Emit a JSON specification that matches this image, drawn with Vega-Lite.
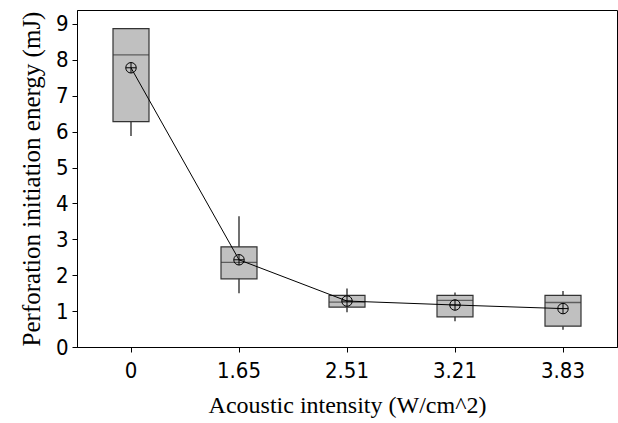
{
  "$schema": "https://vega.github.io/schema/vega-lite/v6.json",
  "width": 540,
  "height": 337,
  "autosize": {"type": "none"},
  "padding": {"left": 77, "top": 10, "right": 1, "bottom": 76},
  "background": "white",
  "config": {
    "view": {"stroke": "black", "strokeWidth": 1},
    "axis": {
      "grid": false,
      "domainColor": "black",
      "tickColor": "black",
      "tickSize": 5,
      "labelColor": "black",
      "labelFont": "DejaVu Sans Condensed",
      "labelFontSize": 22,
      "labelOverlap": false,
      "titleFont": "Liberation Serif",
      "titleFontWeight": "normal",
      "titleColor": "black"
    }
  },
  "data": {
    "values": [
      {"intensity": "0", "lower": 5.88, "q1": 6.28, "median": 8.14, "q3": 8.87, "upper": 8.87, "mean": 7.78},
      {"intensity": "1.65", "lower": 1.5, "q1": 1.9, "median": 2.36, "q3": 2.79, "upper": 3.64, "mean": 2.43},
      {"intensity": "2.51", "lower": 0.97, "q1": 1.11, "median": 1.25, "q3": 1.44, "upper": 1.63, "mean": 1.28},
      {"intensity": "3.21", "lower": 0.72, "q1": 0.84, "median": 1.3, "q3": 1.44, "upper": 1.52, "mean": 1.17},
      {"intensity": "3.83", "lower": 0.48, "q1": 0.58, "median": 1.24, "q3": 1.44, "upper": 1.56, "mean": 1.07}
    ]
  },
  "encoding": {
    "x": {
      "field": "intensity",
      "type": "ordinal",
      "sort": ["0", "1.65", "2.51", "3.21", "3.83"],
      "scale": {"type": "band", "paddingInner": 0, "paddingOuter": 0},
      "axis": {"title": "Acoustic intensity (W/cm^2)", "titleFontSize": 24, "labelAngle": 0, "labelPadding": 8, "titlePadding": 12}
    }
  },
  "layer": [
    {
      "mark": {"type": "rule", "color": "#111111", "strokeWidth": 1.2},
      "encoding": {
        "y": {
          "field": "lower",
          "type": "quantitative",
          "scale": {"domain": [0, 9.39], "nice": false, "zero": true},
          "axis": {"title": "Perforation initiation energy  (mJ)", "titleFontSize": 25, "values": [0, 1, 2, 3, 4, 5, 6, 7, 8, 9], "labelPadding": 4, "titlePadding": 11}
        },
        "y2": {"field": "upper"}
      }
    },
    {
      "mark": {"type": "bar", "size": 36, "fill": "#c0c0c0", "stroke": "#333333", "strokeWidth": 1.2},
      "encoding": {
        "y": {"field": "q1", "type": "quantitative", "axis": {"title": "Perforation initiation energy  (mJ)", "titleFontSize": 25, "values": [0, 1, 2, 3, 4, 5, 6, 7, 8, 9], "labelPadding": 4, "titlePadding": 11}},
        "y2": {"field": "q3"}
      }
    },
    {
      "mark": {"type": "tick", "size": 36, "thickness": 1.3, "color": "#333333"},
      "encoding": {
        "y": {"field": "median", "type": "quantitative", "axis": {"title": "Perforation initiation energy  (mJ)", "titleFontSize": 25, "values": [0, 1, 2, 3, 4, 5, 6, 7, 8, 9], "labelPadding": 4, "titlePadding": 11}}
      }
    },
    {
      "mark": {"type": "line", "color": "black", "strokeWidth": 1},
      "encoding": {
        "y": {"field": "mean", "type": "quantitative", "axis": {"title": "Perforation initiation energy  (mJ)", "titleFontSize": 25, "values": [0, 1, 2, 3, 4, 5, 6, 7, 8, 9], "labelPadding": 4, "titlePadding": 11}}
      }
    },
    {
      "mark": {
        "type": "point",
        "shape": "M-1,0A1,1 0 1,1 1,0A1,1 0 1,1 -1,0ZM-1,0L1,0M0,-1L0,1",
        "filled": false,
        "stroke": "black",
        "strokeWidth": 1,
        "size": 110,
        "opacity": 1
      },
      "encoding": {
        "y": {"field": "mean", "type": "quantitative", "axis": {"title": "Perforation initiation energy  (mJ)", "titleFontSize": 25, "values": [0, 1, 2, 3, 4, 5, 6, 7, 8, 9], "labelPadding": 4, "titlePadding": 11}}
      }
    }
  ]
}
